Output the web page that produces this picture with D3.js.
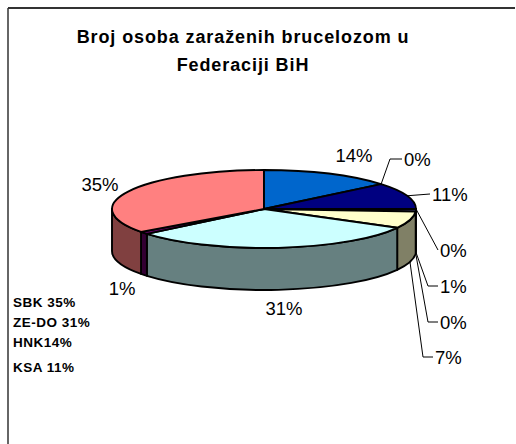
<!DOCTYPE html>
<html>
<head>
<meta charset="utf-8">
<script src="https://cdn.jsdelivr.net/npm/d3@7"></script>
<style>
  html, body { margin: 0; padding: 0; background: #fff; }
  svg { display: block; }
  text { font-family: "Liberation Sans", Arial, Helvetica, sans-serif; }
</style>
</head>
<body>
<svg id="chart" width="516" height="444"></svg>
<script>
// ---- data ----
const titleLines = ["Broj osoba zaraženih brucelozom u", "Federaciji BiH"];
const categories = ["USK", "PK", "TK", "ZE-DO", "BPK", "SBK", "HNK", "ZHK", "KSA", "K10"];
const values = [1, 0, 7, 31, 1, 35, 14, 0, 11, 0];
const colors = ["#9999FF", "#993366", "#FFFFCC", "#CCFFFF", "#660066", "#FF8080", "#0066CC", "#CCCCFF", "#000080", "#FF00FF"];
const noteLines = ["SBK 35%", "ZE-DO 31%", "HNK14%", "KSA 11%"];

// ---- layout ----
const W = 516, H = 444;
const cx = 264, cy = 209, rx = 152, ry = 39, depth = 42;
const svg = d3.select("#chart");

// frame
svg.append("line").attr("x1", 8).attr("y1", 8).attr("x2", 515).attr("y2", 8)
  .attr("stroke", "#333").attr("stroke-width", 2);
svg.append("line").attr("x1", 8).attr("y1", 8).attr("x2", 8).attr("y2", H)
  .attr("stroke", "#333").attr("stroke-width", 1.5);

// title
svg.append("g").selectAll("text").data(titleLines).join("text")
  .attr("x", 243).attr("y", (d, i) => 43 + i * 28)
  .attr("text-anchor", "middle").attr("font-weight", "bold").attr("font-size", 18)
  .attr("letter-spacing", 0.9)
  .attr("fill", "#000").text(d => d);

// pie angles (clockwise from 12 o'clock, first slice at 3 o'clock)
const pie = d3.pie().sort(null).value(d => d)
  .startAngle(Math.PI / 2).endAngle(Math.PI / 2 + 2 * Math.PI);
const arcs = pie(values).map((a, i) => ({ ...a, i, cat: categories[i] }));

const P = (t, off = 0) => [cx + rx * Math.sin(t), cy + off - ry * Math.cos(t)];
const fmt = p => p[0].toFixed(2) + "," + p[1].toFixed(2);
const darker = c => { const r = d3.rgb(c); return d3.rgb(r.r * 0.5, r.g * 0.5, r.b * 0.5).formatHex(); };

// side faces (front half only: angles between PI/2 and 3PI/2)
const sides = svg.append("g");
arcs.forEach(a => {
  const s0 = Math.max(a.startAngle, Math.PI / 2), s1 = Math.min(a.endAngle, 3 * Math.PI / 2);
  if (s1 - s0 < 1e-6) return;
  const d = "M" + fmt(P(s0)) +
    " A" + rx + "," + ry + " 0 0 1 " + fmt(P(s1)) +
    " L" + fmt(P(s1, depth)) +
    " A" + rx + "," + ry + " 0 0 0 " + fmt(P(s0, depth)) + " Z";
  sides.append("path").attr("d", d).attr("fill", darker(colors[a.i]))
    .attr("stroke", "#000").attr("stroke-width", 1.9).attr("stroke-linejoin", "round");
});

// top faces
const tops = svg.append("g");
arcs.forEach(a => {
  if (a.endAngle - a.startAngle < 1e-6) return;
  const large = (a.endAngle - a.startAngle) > Math.PI ? 1 : 0;
  const d = "M" + cx + "," + cy + " L" + fmt(P(a.startAngle)) +
    " A" + rx + "," + ry + " 0 " + large + " 1 " + fmt(P(a.endAngle)) + " Z";
  tops.append("path").attr("d", d).attr("fill", colors[a.i])
    .attr("stroke", "#000").attr("stroke-width", 1.9).attr("stroke-linejoin", "round");
});

// data labels
const labelLayout = [
  { x: 440, y: 286, anchor: "start", elbow: 428 },
  { x: 440, y: 322, anchor: "start", elbow: 428 },
  { x: 435, y: 357, anchor: "start", elbow: 423 },
  { x: 284, y: 308, anchor: "middle" },
  { x: 122, y: 288, anchor: "middle" },
  { x: 100, y: 184, anchor: "middle" },
  { x: 354, y: 155, anchor: "middle" },
  { x: 404, y: 159, anchor: "start", elbow: 390 },
  { x: 432, y: 194, anchor: "start", straight: true },
  { x: 440, y: 250, anchor: "start", straight: true }
];
const labG = svg.append("g");
arcs.forEach(a => {
  const L = labelLayout[a.i];
  const mid = (a.startAngle + a.endAngle) / 2;
  const front = mid > Math.PI / 2 - 1e-9 && mid < 3 * Math.PI / 2;
  const anc = P(mid, front ? depth : 0);
  if (L.elbow !== undefined) {
    labG.append("polyline")
      .attr("points", [anc, [L.elbow, L.y], [L.x - 2, L.y]].map(fmt).join(" "))
      .attr("fill", "none").attr("stroke", "#000").attr("stroke-width", 1);
  } else if (L.straight) {
    labG.append("polyline")
      .attr("points", [anc, [L.x - 2, L.y]].map(fmt).join(" "))
      .attr("fill", "none").attr("stroke", "#000").attr("stroke-width", 1);
  }
  labG.append("text").attr("x", L.x).attr("y", L.y + 6.5)
    .attr("text-anchor", L.anchor).attr("font-size", 18.5).attr("fill", "#000")
    .text(d3.format(".0f")(a.data) + "%");
});

// notes at lower left
const noteY = [306.5, 326.5, 346.5, 371.5];
svg.append("g").selectAll("text").data(noteLines).join("text")
  .attr("x", 13).attr("y", (d, i) => noteY[i])
  .attr("font-weight", "bold").attr("font-size", 13.5).attr("letter-spacing", 0.5)
  .attr("fill", "#000")
  .text(d => d);
</script>
</body>
</html>
